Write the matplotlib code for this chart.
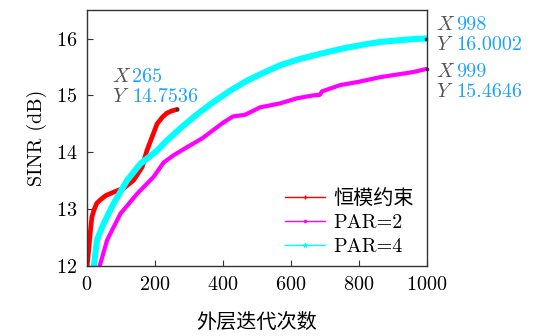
import matplotlib
matplotlib.use("Agg")
import matplotlib.pyplot as plt
from matplotlib.lines import Line2D

plt.rcParams['font.family'] = ['cmr10', 'Noto Sans CJK SC']
plt.rcParams['mathtext.fontset'] = 'cm'
plt.rcParams['axes.formatter.use_mathtext'] = True
plt.rcParams['font.size'] = 14.5

# 恒模约束
x_cm = [0, 5, 10, 14, 20, 28, 38, 55, 78, 108, 137, 162, 176, 190, 206, 222, 235, 250, 265]
y_cm = [12.0, 12.3, 12.63, 12.86, 12.98, 13.1, 13.16, 13.24, 13.30, 13.37, 13.51, 13.74, 14.03, 14.25, 14.5, 14.62, 14.69, 14.73, 14.7536]

# PAR=2
x_p2 = [37, 59, 98, 147, 196, 225, 255, 294, 340, 371, 400, 429, 465, 509, 568, 618, 665, 685, 691, 744, 800, 862, 959, 999]
y_p2 = [12.0, 12.46, 12.92, 13.27, 13.57, 13.82, 13.95, 14.09, 14.25, 14.39, 14.52, 14.63, 14.66, 14.79, 14.86, 14.95, 15.0, 15.01, 15.07, 15.18, 15.24, 15.32, 15.41, 15.4646]

# PAR=4
x_p4 = [20, 29, 49, 78, 118, 157, 206, 235, 274, 320, 371, 420, 471, 520, 568, 620, 665, 720, 765, 820, 862, 920, 960, 998]
y_p4 = [12.0, 12.46, 12.75, 13.1, 13.51, 13.8, 14.03, 14.21, 14.42, 14.65, 14.88, 15.08, 15.26, 15.40, 15.53, 15.63, 15.70, 15.78, 15.84, 15.90, 15.94, 15.97, 15.99, 16.0002]

tip_color = '#1ea2ff'

fig = plt.figure(figsize=(5.41, 3.36), dpi=100)
ax = fig.add_axes([0.161, 0.208, 0.628, 0.762])

ax.plot(x_cm, y_cm, color='red', lw=3.4, solid_capstyle='round')
ax.plot(x_p2, y_p2, color='magenta', lw=3.0, solid_capstyle='round')
ax.plot(x_p4, y_p4, color='cyan', lw=4.4, solid_capstyle='round')

# data tips at the last points
for xs, ys in [(x_cm, y_cm), (x_p2, y_p2), (x_p4, y_p4)]:
    ax.plot(xs[-1], ys[-1], 's', ms=2, color='#333333', clip_on=False, zorder=5)

def tip(x, y, dx, dy):
    # dy is the baseline offset of the Y row, X row sits 14 pt above it
    for lab, val, oy in [(r'$X$', '%d' % x, dy + 14), (r'$Y$', '%.4f' % y, dy)]:
        ax.annotate(lab, (x, y), xytext=(dx, oy), textcoords='offset points',
                    color='#555555', ha='left', va='baseline', annotation_clip=False)
        ax.annotate(val, (x, y), xytext=(dx + 14.5, oy), textcoords='offset points',
                    color=tip_color, ha='left', va='baseline', annotation_clip=False)

tip(x_cm[-1], y_cm[-1], -47, 5.5)
tip(x_p4[-1], y_p4[-1], 7, -8)
tip(x_p2[-1], y_p2[-1], 7, -20)

ax.set_xlim(0, 1000)
ax.set_ylim(12, 16.5)
ax.set_xticks([0, 200, 400, 600, 800, 1000])
ax.set_yticks([12, 13, 14, 15, 16])
ax.tick_params(direction='in', length=4, width=0.8, color='#333333', pad=7)
for s in ax.spines.values():
    s.set_color('#333333')
    s.set_linewidth(1.0)

ax.set_xlabel('外层迭代次数', labelpad=14)
ax.set_ylabel('SINR (dB)', labelpad=6)

handles = [
    Line2D([], [], color='red', lw=1, marker='+', ms=3),
    Line2D([], [], color='magenta', lw=1, marker='.', ms=3),
    Line2D([], [], color='cyan', lw=1, marker='*', ms=3),
]
ax.legend(handles, ['恒模约束', 'PAR=2', 'PAR=4'], loc='lower right', frameon=False,
          handlelength=2.0, handletextpad=0.4, labelspacing=0.3, borderaxespad=0.1,
          bbox_to_anchor=(0.99, 0.0))

fig.savefig('out.png', dpi=100)
